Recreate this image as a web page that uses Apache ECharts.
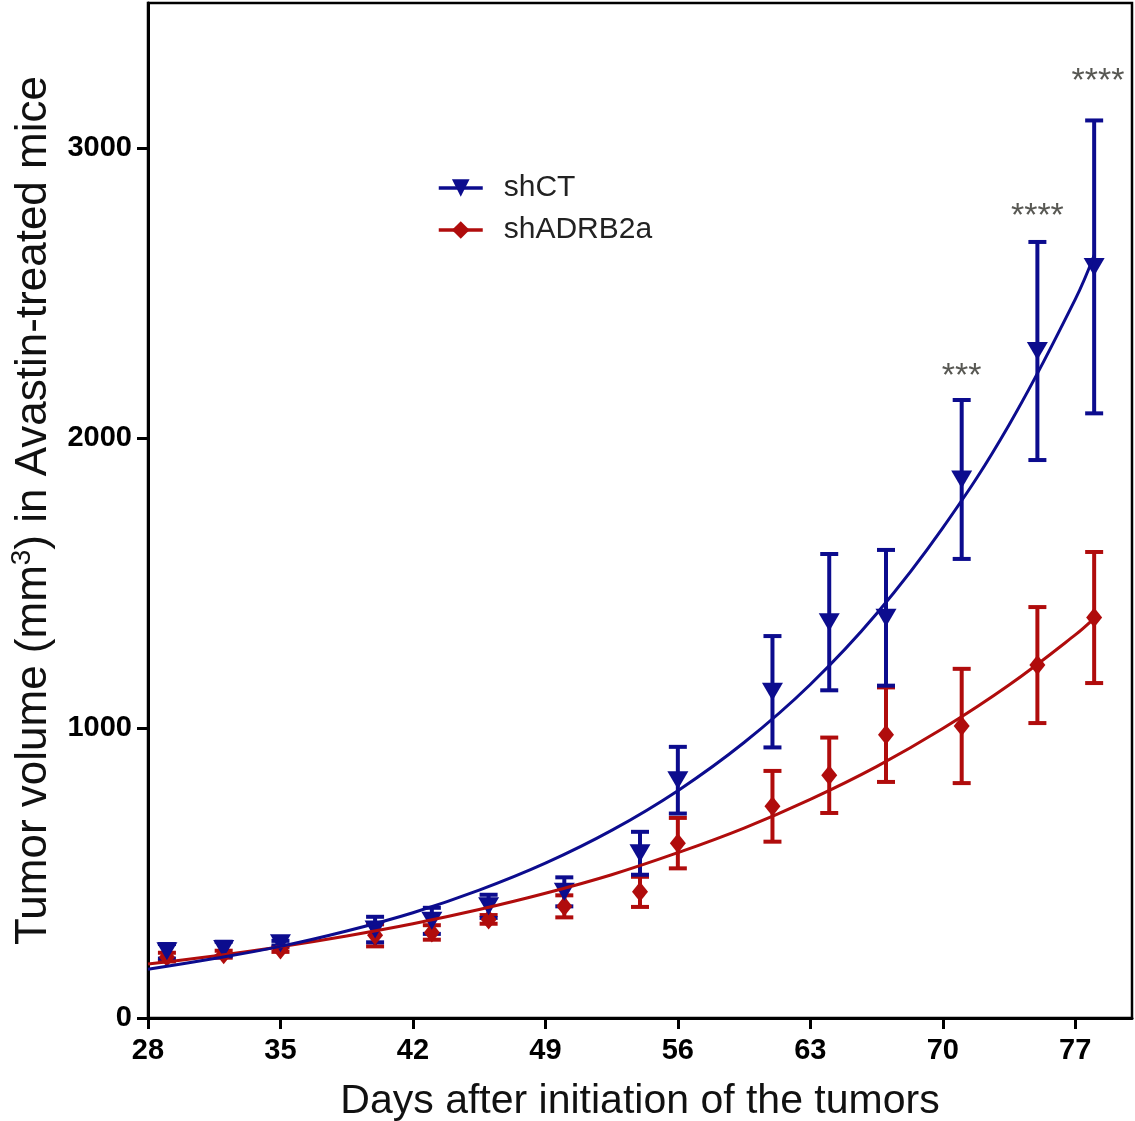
<!DOCTYPE html>
<html>
<head>
<meta charset="utf-8">
<script src="https://cdn.jsdelivr.net/npm/echarts@6/dist/echarts.min.js"></script>
<style>
html,body{margin:0;padding:0;background:#fff;}
#chart{width:1135px;height:1121px;}
</style>
</head>
<body>
<div id="chart"></div>
<script>
// ---- data ----
const days = [29, 32, 35, 40, 43, 46, 50, 54, 56, 61, 64, 67, 71, 75, 78];
const shCTMean = [230, 238, 258, 305, 335, 385, 435, 568, 820, 1125, 1365, 1380, 1857, 2300, 2590];
const shCTErr  = [25, 25, 8, 44, 45, 40, 50, 74, 115, 192, 235, 234, 274, 376, 505];
const shADRMean = [210, 220, 236, 285, 295, 340, 385, 435, 603, 730, 837, 977, 1007, 1217, 1381];
const shADRErr  = [15, 12, 8, 38, 25, 15, 38, 52, 87, 122, 130, 163, 197, 200, 226];

// fitted curves
const curveDays = [28, 31.5, 35, 38.5, 42, 45.5, 49, 52.5, 56, 59.5, 63, 66.5, 70, 73.5, 77, 78];
const shCTCurve = [168, 205, 247, 300, 363, 441, 534, 647, 784, 950, 1150, 1394, 1690, 2045, 2478, 2630];
const shADRCurve = [186, 214, 246, 283, 325, 374, 430, 494, 570, 655, 754, 867, 998, 1148, 1321, 1378];

// significance marks
const sigDays = [71, 75, 78.2];
const sigValues = [2210, 2765, 3230];
const sigLabels = ['***', '****', '****'];

const xTicks = [28, 35, 42, 49, 56, 63, 70, 77];
const yTicks = [0, 1000, 2000, 3000];

const BLUE = '#0c0c8e';
const RED = '#b00c0c';
const FONT = "'Liberation Sans', Arial, sans-serif";
const TRI = 'path://M0,0L20,0L10,17Z';

function errorBarSeries(name, color, means, errs) {
  return {
    type: 'custom',
    name: name,
    data: days.map((d, i) => [d, means[i] - errs[i], means[i] + errs[i]]),
    encode: {x: 0, y: [1, 2]},
    z: 3,
    renderItem: function (params, api) {
      const x = api.value(0);
      const lo = api.coord([x, api.value(1)]);
      const hi = api.coord([x, api.value(2)]);
      const hw = 9;
      const st = {stroke: color, lineWidth: 4};
      return {
        type: 'group',
        children: [
          {type: 'line', shape: {x1: hi[0], y1: hi[1], x2: lo[0], y2: lo[1]}, style: st},
          {type: 'line', shape: {x1: hi[0] - hw, y1: hi[1], x2: hi[0] + hw, y2: hi[1]}, style: st},
          {type: 'line', shape: {x1: lo[0] - hw, y1: lo[1], x2: lo[0] + hw, y2: lo[1]}, style: st}
        ]
      };
    }
  };
}

const chart = echarts.init(document.getElementById('chart'), null, {renderer: 'canvas'});
chart.setOption({
  backgroundColor: '#fff',
  animation: false,
  grid: {left: 148, right: 3, top: 3, bottom: 103, show: true, borderColor: '#000', borderWidth: 2.5,
         backgroundColor: 'transparent', containLabel: false, outerBoundsMode: 'none'},
  legend: {
    data: ['shCT', 'shADRB2a'],
    orient: 'vertical',
    left: 432,
    top: 168,
    itemWidth: 44,
    itemHeight: 22,
    itemGap: 12,
    lineStyle: {width: 3.5},
    textStyle: {fontFamily: FONT, fontSize: 30, color: '#222', padding: [0, 0, 0, 16]}
  },
  xAxis: {
    type: 'value',
    min: 28, max: 80, interval: 7,
    name: 'Days after initiation of the tumors',
    nameLocation: 'middle',
    nameGap: 63,
    nameTextStyle: {fontFamily: FONT, fontSize: 41, color: '#111'},
    axisLine: {show: true, lineStyle: {color: '#000', width: 3}},
    axisTick: {show: true, length: 11, lineStyle: {color: '#000', width: 3}, customValues: xTicks},
    axisLabel: {fontFamily: FONT, fontSize: 29, fontWeight: 'bold', color: '#000', margin: 18, customValues: xTicks,
                formatter: v => String(v)},
    splitLine: {show: false}
  },
  yAxis: {
    type: 'value',
    min: 0, max: 3500, interval: 1000,
    name: '{a|Tumor volume (mm}{s|3}{a|) in Avastin-treated mice}',
    nameLocation: 'middle',
    nameGap: 88,
    nameTextStyle: {
      rich: {
        a: {fontFamily: FONT, fontSize: 44, color: '#111', lineHeight: 52},
        s: {fontFamily: FONT, fontSize: 28, color: '#111', lineHeight: 30, verticalAlign: 'top'}
      }
    },
    axisLine: {show: true, lineStyle: {color: '#000', width: 3}},
    axisTick: {show: true, length: 11, lineStyle: {color: '#000', width: 3}, customValues: yTicks},
    axisLabel: {fontFamily: FONT, fontSize: 29, fontWeight: 'bold', color: '#000', margin: 16, customValues: yTicks,
                formatter: v => String(v)},
    splitLine: {show: false}
  },
  series: [
    errorBarSeries('shADRB2a-err', RED, shADRMean, shADRErr),
    {
      type: 'scatter', name: 'shADRB2a-pts', z: 4,
      symbol: 'diamond', symbolSize: [16, 20],
      itemStyle: {color: RED, opacity: 1},
      data: days.map((d, i) => [d, shADRMean[i]])
    },
    errorBarSeries('shCT-err', BLUE, shCTMean, shCTErr),
    {
      type: 'scatter', name: 'shCT-pts', z: 4,
      symbol: TRI, symbolSize: [21, 18],
      itemStyle: {color: BLUE, opacity: 1},
      data: days.map((d, i) => [d, shCTMean[i]])
    },
    {
      type: 'line', name: 'shADRB2a', z: 5,
      smooth: 0.4, showSymbol: false,
      symbol: 'diamond',
      lineStyle: {color: RED, width: 3},
      itemStyle: {color: RED},
      data: curveDays.map((d, i) => [d, shADRCurve[i]])
    },
    {
      type: 'line', name: 'shCT', z: 5,
      smooth: 0.4, showSymbol: false,
      symbol: TRI,
      lineStyle: {color: BLUE, width: 3},
      itemStyle: {color: BLUE},
      data: curveDays.map((d, i) => [d, shCTCurve[i]])
    },
    {
      type: 'scatter', name: 'sig', z: 6,
      symbolSize: 0,
      silent: true,
      label: {
        show: true, position: 'inside',
        fontFamily: FONT, fontSize: 34, color: '#2e2e28',
        formatter: p => sigLabels[p.dataIndex]
      },
      data: sigDays.map((d, i) => [d, sigValues[i]])
    }
  ]
});
</script>
</body>
</html>
